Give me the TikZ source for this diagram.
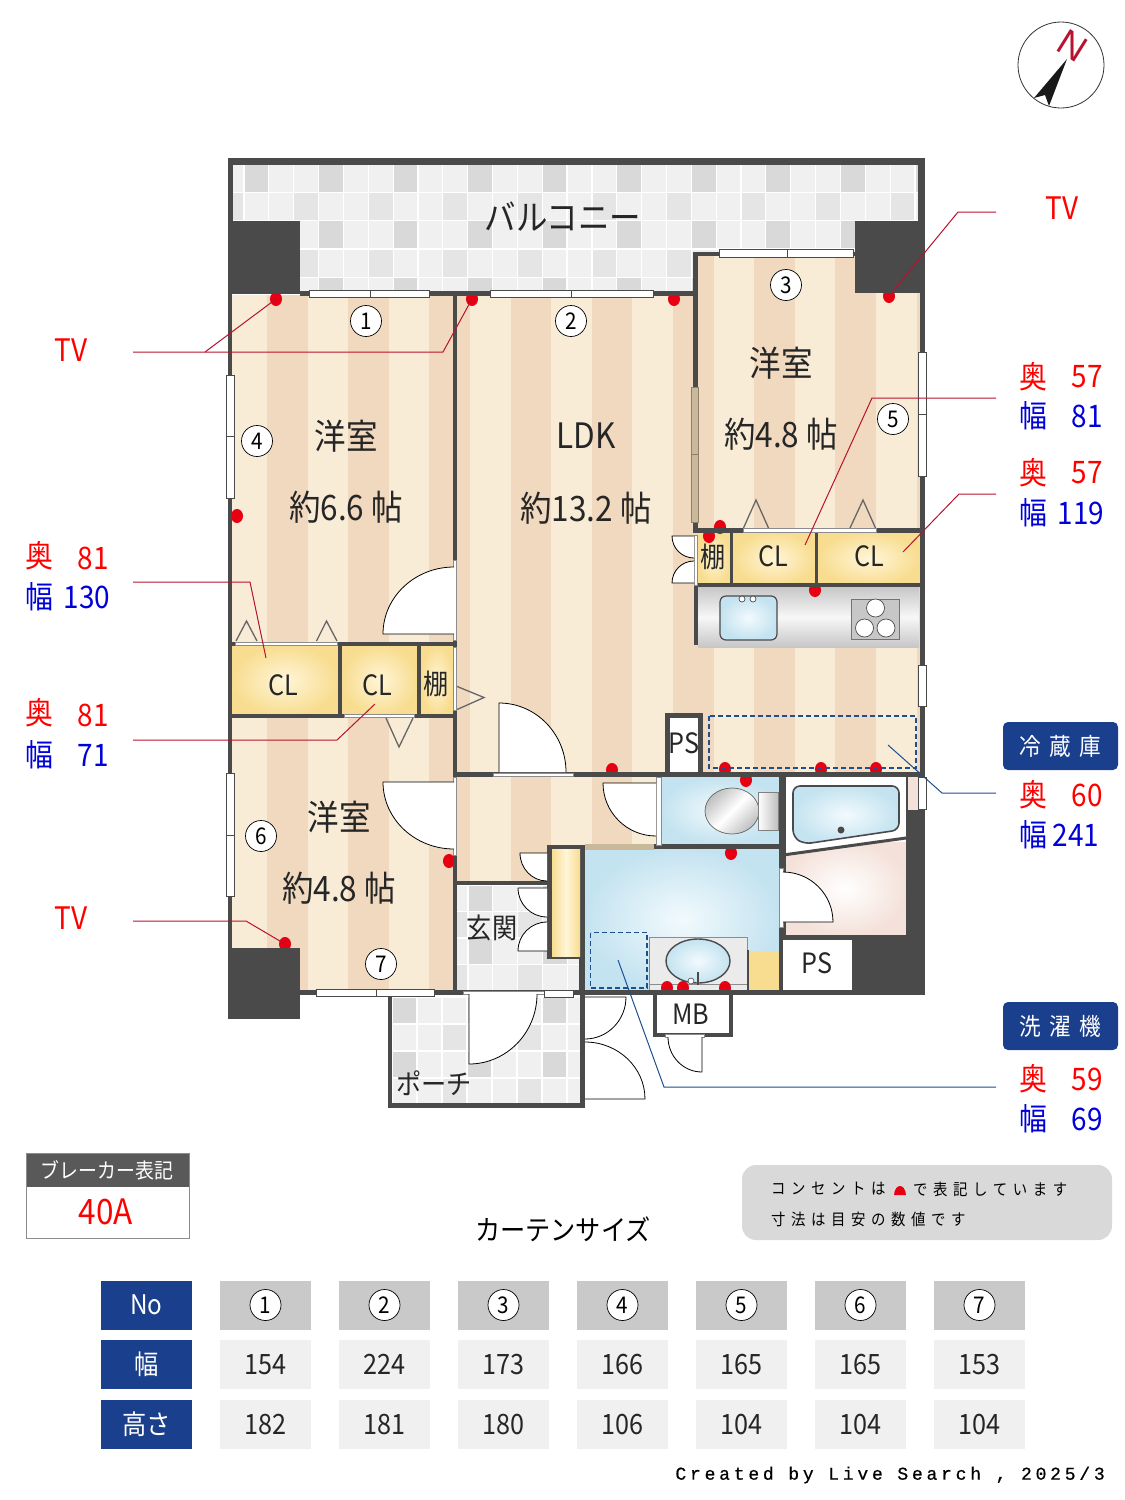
\documentclass[tikz,border=0pt]{standalone}
\usepackage{fontspec}
\usepackage{xcolor}
\usetikzlibrary{calc,shapes.geometric}
\setmainfont{Noto Sans CJK JP}[FakeStretch=0.9]
\newfontfamily\creditfont{Liberation Mono}[LetterSpace=21,FakeBold=0.6]
\newfontfamily\spacedfont{Noto Sans CJK JP}[LetterSpace=35,FakeStretch=0.9]
\newfontfamily\northfont{Liberation Sans}
\definecolor{wallgray}{HTML}{4A4A4A}
\definecolor{floorlight}{HTML}{F8ECD7}
\definecolor{floordark}{HTML}{F0D9BE}
\definecolor{closetgold}{HTML}{F8DD90}
\definecolor{closetpale}{HTML}{FFF5D8}
\definecolor{waterblue}{HTML}{C4E3F0}
\definecolor{waterpale}{HTML}{F2FAFD}
\definecolor{navyband}{HTML}{1A3F8C}
\definecolor{leaderred}{HTML}{B8122F}
\definecolor{leaderblue}{HTML}{1D4F91}
\definecolor{khaki}{HTML}{C9B99A}
\definecolor{outletred}{HTML}{E60012}
\definecolor{dressingpink}{HTML}{F4E2DA}
\tikzset{
	wall/.style={fill=wallgray},
	pane/.style={fill=white,draw=wallgray,line width=.8},
	slidepane/.style={fill=khaki,draw=khaki!70!black,line width=.5},
	fold/.style={draw=black!60,line width=1.3},
	track/.style={fill=white,draw=black!45,line width=.6},
	outlet/.style={ellipse,fill=outletred,inner sep=0pt,minimum width=12,minimum height=14},
	roomlabel/.style={font=\fontsize{35}{35}\selectfont,text=black!85},
	partlabel/.style={font=\fontsize{28}{28}\selectfont,text=black!85},
	numcircle/.style={circle,draw=black,line width=.7,fill=white,inner sep=0pt,minimum size=31,font=\fontsize{23}{23}\selectfont},
	redtext/.style={text=red,font=\fontsize{31}{31}\selectfont},
	bluetext/.style={text=blue!85!black,font=\fontsize{31}{31}\selectfont},
	redleader/.style={draw=leaderred,line width=1},
	blueleader/.style={draw=leaderblue,line width=1},
	tagbox/.style={fill=navyband,rounded corners=5,minimum width=115,minimum height=48,inner sep=0pt,text=white},
	headcell/.style={fill=navyband,minimum width=91,minimum height=49,inner sep=0pt,text=white,font=\fontsize{27}{27}\selectfont},
	graycell/.style={fill=black!21,minimum width=91,minimum height=49,inner sep=0pt},
	palecell/.style={fill=black!6,minimum width=91,minimum height=49,inner sep=0pt,font=\fontsize{28}{28}\selectfont,text=black!85},
	dashbox/.style={draw=leaderblue,line width=1.5,dash pattern=on 5pt off 3pt}
}
% door leaf: hinge, free end of the leaf, end of the swing
\newcommand{\doorleaf}[3]{
	\fill[white] (#1) -- (#2) .. controls ($(#2)+.552*(#3)-.552*(#1)$) and ($(#3)+.552*(#2)-.552*(#1)$) .. (#3) -- cycle;
	\draw[black,line width=.8] (#1) -- (#2) .. controls ($(#2)+.552*(#3)-.552*(#1)$) and ($(#3)+.552*(#2)-.552*(#1)$) .. (#3);
}
% tiled floor: x1,y1,x2,y2, cell width, cell height, x of the first dark tile
\newcommand{\tilefloor}[7]{
	\begin{scope}
		\clip (#1,#2) rectangle (#3,#4);
		\fill[black!6] (#1,#2) rectangle (#3,#4);
		\foreach \i in {-1,...,30} \foreach \j in {0,...,5} {
			\pgfmathtruncatemacro{\rowodd}{mod(\j,2)}
			\pgfmathtruncatemacro{\pick}{mod(\i+30+\rowodd,3)}
			\ifnum\pick=0
				\ifnum\rowodd=0 \fill[black!15] ({#7+\i*#5},{#2+\j*#6}) rectangle ++(#5,#6);
				\else \fill[black!10] ({#7+\i*#5},{#2+\j*#6}) rectangle ++(#5,#6); \fi
			\fi
			\draw[white,line width=1.2] ({#7+\i*#5},#2) -- ({#7+\i*#5},#4);
			\draw[white,line width=1.2] (#1,{#2+\j*#6}) -- (#3,{#2+\j*#6});
		}
	\end{scope}
}
\begin{document}
\begin{tikzpicture}[x=1pt,y=-1pt]
	\useasboundingbox (0,0) rectangle (1125,1500);

	% compass
	\draw[black!80,line width=.8] (1061,65) circle [radius=43];
	\fill[black!90] (1067,59) -- (1034,98) -- (1045,95) -- (1049,106) -- cycle;
	\node[rotate=-32,text=leaderred,inner sep=0pt,font=\northfont\fontsize{37}{37}\selectfont] (north) at (1073,46) {N};

	% balcony, floors
	\tilefloor{233}{164}{918}{292}{24.85}{28.3}{244}
	\begin{scope}
		\clip (232,295) rectangle (455,990) (455,295) rectangle (920,775) (695,255) rectangle (920,530) (455,775) rectangle (660,885);
		\fill[floorlight] (200,240) rectangle (930,1000);
		\foreach \k in {-1,...,9}
			\fill[floordark] ({267+81.2*\k},240) rectangle ++(40.5,760);
	\end{scope}
	\tilefloor{457}{885}{580}{991}{24.85}{26.5}{468}
	\tilefloor{392}{997}{581}{1104}{25}{27}{392}

	% wet rooms and storage
	\shade[inner color=waterpale,outer color=waterblue] (661,777) rectangle (779,844);
	\shade[inner color=waterpale,outer color=waterblue] (585,849) rectangle (779,990);
	\shade[inner color=white,outer color=dressingpink] (783,842) rectangle (906,935);
	\fill[white] (783,777) -- (906,777) -- (906,838) -- (783,855) -- cycle;
	\shade[inner color=closetpale,outer color=closetgold] (232,645) rectangle (338,716);
	\shade[inner color=closetpale,outer color=closetgold] (342,645) rectangle (417,716);
	\shade[inner color=closetpale,outer color=closetgold] (421,645) rectangle (453,716);
	\shade[inner color=closetpale,outer color=closetgold] (698,532) rectangle (730,585);
	\shade[inner color=closetpale,outer color=closetgold] (733,532) rectangle (815,585);
	\shade[inner color=closetpale,outer color=closetgold] (818,532) rectangle (920,585);
	\fill[closetgold] (749,951) rectangle (779,990);
	\fill[dressingpink] (908,777) rectangle (918,810);

	% kitchen
	\shade[top color=black!22,bottom color=black!22,middle color=black!3] (698,587) rectangle (919,647);
	\shade[inner color=waterpale,outer color=waterblue,draw=wallgray,line width=1.2,rounded corners=6] (720,596) rectangle (777,640);
	\draw[wallgray,line width=.7,fill=white] (742,599) circle [radius=3] (753,599) circle [radius=3];
	\fill[black!22] (851,599) rectangle (899,639);
	\draw[black!55,line width=.6] (851,599) rectangle (899,639);
	\draw[wallgray,line width=.7,fill=white] (875.5,608) circle [radius=9] (864.5,628) circle [radius=9] (886,628) circle [radius=9];

	% toilet
	\shade[left color=black!25,right color=black!25,middle color=white,shading angle=45,draw=black!60,line width=.7] (732,811) ellipse [x radius=27,y radius=23];
	\shade[left color=white,right color=black!25,draw=black!50,line width=.6] (758,792) rectangle (778,830);

	% bath tub
	\shade[inner color=waterpale,outer color=waterblue,draw=wallgray,line width=1.6,rounded corners=7] (793,786) -- (899,786) -- (899,830) -- (804,844) -- (793,837) -- cycle;
	\fill[wallgray] (841,830) circle [radius=3.5];

	% vanity
	\fill[black!8] (649,937) rectangle (747,991);
	\draw[black!45,line width=.6] (649,937) rectangle (747,991) (649,984) -- (747,984);
	\shade[inner color=waterpale,outer color=waterblue,draw=wallgray,line width=1.4] (698,961) ellipse [x radius=32,y radius=22];
	\draw[wallgray,line width=1.6] (698,972) -- (698,985);
	\draw[wallgray,line width=.6,fill=white] (691,981) circle [radius=3];
	\fill[wallgray] (747,950) rectangle (749,990);

	% outlets, partly hidden by the walls
	\foreach \nm/\px/\py in {tvA/276/299,tvB/472/299,plugC/674/299,tvD/889/296,plugE/237/516,plugF/709/536,plugG/720/527,
			plugH/815/590,plugI/612/770,plugJ/725/769,plugK/821/769,plugL/876/769,plugM/746/780,plugN/731/853,
			plugO/449/861,tvP/285/944,plugQ/667/988,plugR/683/988,plugS/725/988}
		\node[outlet] (\nm) at (\px,\py) {};

	% walls
	\foreach \xa/\ya/\xb/\yb in {228/158/925/165,228/158/233/222,918/158/925/222,228/221/300/294,855/221/925/293,
			300/291/698/296,693/252/698/533,693/252/858/256,228/294/232/950,920/293/925/777,453/294/457/995,
			693/528/920/533,694/583/920/587,730/530/733/585,815/530/818/585,694/585/698/645,
			232/642/453/646,232/714/453/718,338/644/342/716,417/644/421/716,455/772/925/777,665/713/703/772,
			779/775/786/995,654/844/786/849,906/777/908/810,906/810/925/995,783/935/925/940,783/990/925/995,
			300/990/925/995,228/948/300/1019,455/881/550/885,547/845/585/959,579/845/585/995,653/990/733/1037,
			388/994/392/1108,388/1103/585/1108,580/994/585/1108,852/935/906/990}
		\fill[wall] (\xa,\ya) rectangle (\xb,\yb);
	\draw[wallgray,line width=3] (783,855) -- (906,838);
	\fill[white] (670,718) rectangle (698,772);
	\fill[white] (783,940) rectangle (852,990);
	\fill[white] (657,995) rectangle (729,1033);
	\shade[left color=closetgold,right color=closetgold,middle color=closetpale] (552,849) rectangle (580,956);
	\fill[khaki] (585,844) rectangle (654,850);

	% folding door marks and tracks
	\foreach \xa/\xb/\xc in {743.5/756/768.5,850/863/875.5}
		\draw[fold] (\xa,528) -- (\xb,500) -- (\xc,528);
	\foreach \xa/\xb/\xc in {236/246.5/257,316.5/326.5/337}
		\draw[fold] (\xa,641) -- (\xb,621) -- (\xc,641);
	\draw[fold] (386,718) -- (399,747) -- (413,718);
	\draw[fold] (456,686) -- (484,697.5) -- (456,710);
	\foreach \xa/\ya/\xb/\yb in {743/528/876/532,235/642/337/645,344/714/414/717,453/647/456/710,493/773/573/776,463/991/544/994,
			453/560/456/640,453/777/456/855,656/777/661/845,779/868/783/927,694/535/697/585,665/1034/704/1037}
		\fill[track] (\xa,\ya) rectangle (\xb,\yb);

	% doors
	\doorleaf{454,634}{383,634}{454,567}
	\doorleaf{499,772}{499,703}{566,772}
	\doorleaf{454,782}{383,782}{454,849}
	\doorleaf{656,783}{603,783}{656,836}
	\doorleaf{783,922}{833,922}{783,872}
	\doorleaf{694,536}{672,536}{694,558}
	\doorleaf{694,583}{672,583}{694,561}
	\doorleaf{547,853}{520,853}{547,881}
	\doorleaf{547,888}{518,888}{547,917}
	\doorleaf{547,951}{518,951}{547,922}
	\doorleaf{469,994}{469,1064}{537,994}
	\doorleaf{585,997}{626,997}{585,1039}
	\doorleaf{585,1099}{645,1099}{585,1042}
	\doorleaf{702,1037}{702,1072}{668,1037}

	% windows
	\foreach \xa/\xm/\xb/\ya/\yb in {309.5/370/429/290/297.5,490/571/653/290/297.5,719.5/787/853.5/249/257,316.5/376/434.5/989.5/996.5}{
		\draw[pane] (\xa,\ya) rectangle (\xb,\yb);
		\draw[wallgray,line width=.7] (\xm,\ya) -- (\xm,\yb);
	}
	\foreach \ya/\ym/\yb/\xa/\xb in {375/436/498/226/234.5,773/835/896.5/226/234.5,352/414/476/918/926}{
		\draw[pane] (\xa,\ya) rectangle (\xb,\yb);
		\draw[wallgray,line width=.7] (\xa,\ym) -- (\xb,\ym);
	}
	\draw[pane] (918,665) rectangle (926,706);
	\draw[pane] (918,777) rectangle (926,809);
	\draw[pane] (544,990) rectangle (573,997);
	\draw[slidepane] (691.5,387) rectangle (698,454);
	\draw[slidepane] (691.5,454) rectangle (698,522);

	% dashed appliance spaces
	\draw[dashbox] (709,716) rectangle (916,768);
	\draw[dashbox] (590.5,932.5) rectangle (647,988);

	% room labels
	\node[roomlabel] (balcony) at (563,217) {バルコニー};
	\node[roomlabel] (westA) at (346,436) {洋室};
	\node[roomlabel] (areaA) at (346,507) {約6.6 帖};
	\node[roomlabel] (ldk) at (586,436) {LDK};
	\node[roomlabel] (areaB) at (586,508) {約13.2 帖};
	\node[roomlabel] (westB) at (781,363) {洋室};
	\node[roomlabel] (areaC) at (781,434) {約4.8 帖};
	\node[roomlabel] (westC) at (339,817) {洋室};
	\node[roomlabel] (areaD) at (339,888) {約4.8 帖};
	\node[partlabel] (clA) at (773,556) {CL};
	\node[partlabel] (clB) at (869,556) {CL};
	\node[partlabel] (clC) at (283,685) {CL};
	\node[partlabel] (clD) at (377,685) {CL};
	\node[partlabel] (shelfA) at (713,557) {棚};
	\node[partlabel] (shelfB) at (436,684) {棚};
	\node[partlabel] (psA) at (684,743) {PS};
	\node[partlabel] (psB) at (817,963) {PS};
	\node[partlabel] (mb) at (691,1014) {MB};
	\node[partlabel] (entry) at (492,928) {玄関};
	\node[partlabel] (porch) at (434,1083) {ポーチ};

	% window numbers
	\foreach \nm/\px/\py in {1/366/321,2/571/321,3/786/285,4/257/441,5/893/419,6/261/836,7/381/964}
		\node[numcircle] (win\nm) at (\px,\py) {\nm};

	% leaders on the right
	\node[redtext] (tvTop) at (1062,208) {TV};
	\coordinate (tvTopEnd) at (996,212);
	\draw[redleader] (tvTopEnd) -- (958,212) -- (tvD.center);

	\node[redtext] (depthA) at (1033,377) {奥};
	\node[redtext] (depthAval) at (1087,377) {57};
	\node[bluetext] (widthA) at (1033,416) {幅};
	\node[bluetext] (widthAval) at (1087,416) {81};
	\coordinate (closetA) at (805,545);
	\coordinate (closetAend) at (996,398);
	\draw[redleader] (closetAend) -- (872,398) -- (closetA);

	\node[redtext] (depthB) at (1033,473) {奥};
	\node[redtext] (depthBval) at (1087,473) {57};
	\node[bluetext] (widthB) at (1033,513) {幅};
	\node[bluetext] (widthBval) at (1081,513) {119};
	\coordinate (closetB) at (903,552);
	\coordinate (closetBend) at (996,494);
	\draw[redleader] (closetBend) -- (959,494) -- (closetB);

	\node[tagbox,font=\spacedfont\fontsize{24}{24}\selectfont] (fridge) at (1060.5,746) {冷蔵庫};
	\node[redtext] (depthF) at (1033,795) {奥};
	\node[redtext] (depthFval) at (1087,795) {60};
	\node[bluetext] (widthF) at (1033,835) {幅};
	\node[bluetext] (widthFval) at (1076,835) {241};
	\coordinate (fridgeSpot) at (888,745);
	\coordinate (fridgeEnd) at (996,793);
	\draw[blueleader] (fridgeEnd) -- (942,793) -- (fridgeSpot);

	\node[tagbox,font=\spacedfont\fontsize{24}{24}\selectfont] (washer) at (1060.5,1026) {洗濯機};
	\node[redtext] (depthW) at (1033,1079) {奥};
	\node[redtext] (depthWval) at (1087,1079) {59};
	\node[bluetext] (widthW) at (1033,1119) {幅};
	\node[bluetext] (widthWval) at (1087,1119) {69};
	\coordinate (washerSpot) at (618,960);
	\coordinate (washerEnd) at (996,1087);
	\draw[blueleader] (washerEnd) -- (664,1087) -- (washerSpot);

	% leaders on the left
	\node[redtext] (tvLeft) at (71,350) {TV};
	\coordinate (tvLeftEnd) at (133,352);
	\draw[redleader] (tvLeftEnd) -- (443,352) -- (tvB.center);
	\coordinate (tvLeftFork) at (205,352);
	\draw[redleader] (tvLeftFork) -- (tvA.center);

	\node[redtext] (depthC) at (39,556) {奥};
	\node[redtext] (depthCval) at (93,558) {81};
	\node[bluetext] (widthC) at (39,597) {幅};
	\node[bluetext] (widthCval) at (87,597) {130};
	\coordinate (closetC) at (266,658);
	\coordinate (closetCend) at (133,582);
	\draw[redleader] (closetCend) -- (250,582) -- (closetC);

	\node[redtext] (depthD) at (39,713) {奥};
	\node[redtext] (depthDval) at (93,715) {81};
	\node[bluetext] (widthD) at (39,755) {幅};
	\node[bluetext] (widthDval) at (93,755) {71};
	\coordinate (closetD) at (375,704);
	\coordinate (closetDend) at (133,740);
	\draw[redleader] (closetDend) -- (337,740) -- (closetD);

	\node[redtext] (tvLow) at (71,918) {TV};
	\coordinate (tvLowEnd) at (133,921);
	\draw[redleader] (tvLowEnd) -- (246,921) -- (tvP.center);

	% breaker box
	\fill[black!65] (26,1153) rectangle (189,1187);
	\draw[black!45,line width=.8] (26,1153) rectangle (189,1238);
	\node[text=white,font=\fontsize{21}{21}\selectfont] (breakerhead) at (107,1170) {ブレーカー表記};
	\node[text=red,font=\fontsize{35}{35}\selectfont] (breakerval) at (106,1212) {40A};

	% note
	\fill[black!15,rounded corners=14] (742,1165) rectangle (1112,1240);
	\node[anchor=west,inner sep=0pt,font=\spacedfont\fontsize{16}{16}\selectfont] (noteA) at (771,1189) {コンセントは};
	\fill[outletred] (894,1195) .. controls (895,1183) and (905,1183) .. (906,1195) -- cycle;
	\node[anchor=west,inner sep=0pt,font=\spacedfont\fontsize{16}{16}\selectfont] (noteB) at (913,1189) {で表記しています};
	\node[anchor=west,inner sep=0pt,font=\spacedfont\fontsize{16}{16}\selectfont] (noteC) at (771,1219) {寸法は目安の数値です};

	% curtain table
	\node[font=\fontsize{28}{28}\selectfont] (curtain) at (563,1229) {カーテンサイズ};
	\node[headcell] (headNo) at (146.5,1305) {No};
	\node[headcell] (headW) at (146.5,1364.5) {幅};
	\node[headcell] (headH) at (146.5,1424.5) {高さ};
	\foreach \n/\px/\wval/\hval in {1/265.5/154/182,2/384.5/224/181,3/503.5/173/180,4/622.5/166/106,5/741.5/165/104,6/860.5/165/104,7/979.5/153/104}{
		\node[graycell] (cellN\n) at (\px,1305) {};
		\node[numcircle] (mark\n) at (\px,1305) {\n};
		\node[palecell] (cellW\n) at (\px,1364.5) {\wval};
		\node[palecell] (cellH\n) at (\px,1424.5) {\hval};
	}
	\node[anchor=east,inner sep=0pt,font=\creditfont\fontsize{18}{18}\selectfont] (credit) at (1105,1475) {Created by Live Search , 2025/3};
\end{tikzpicture}
\end{document}
